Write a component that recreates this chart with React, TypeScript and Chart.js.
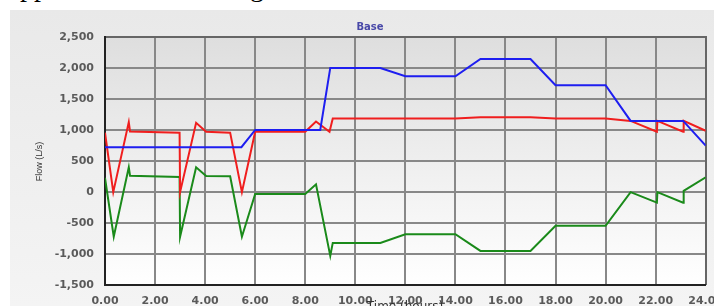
import { useEffect, useRef } from "react";
import { Chart, registerables } from "chart.js";

Chart.register(...registerables);

// Time (hours) and flow (L/s) for each series
const blueTime = [0, 5.45, 6.0, 8.6, 9.0, 11.0, 12.0, 14.0, 15.0, 17.0, 18.0, 20.0, 21.0, 23.1, 24.0];
const blueFlow = [725, 725, 1005, 1005, 2005, 2005, 1870, 1870, 2150, 2150, 1725, 1725, 1150, 1150, 750];

const redTime = [0, 0.33, 0.95, 1.0, 2.98, 3.0, 3.64, 4.04, 5.0, 5.47, 6.0, 8.0, 8.43, 8.97, 9.1, 14.0, 15.0, 17.0, 18.0, 20.0, 21.0, 22.05, 22.07, 23.1, 23.12, 24.0];
const redFlow = [960, 0, 1130, 980, 960, 0, 1120, 975, 960, 0, 975, 975, 1140, 975, 1190, 1190, 1210, 1210, 1190, 1190, 1150, 975, 1150, 975, 1150, 990];

const greenTime = [0, 0.35, 0.95, 1.0, 2.98, 3.0, 3.64, 4.04, 5.0, 5.47, 6.0, 8.0, 8.43, 9.0, 9.1, 11.0, 12.0, 14.0, 15.0, 17.0, 18.0, 20.0, 21.0, 22.05, 22.07, 23.1, 23.12, 24.0];
const greenFlow = [230, -720, 400, 265, 245, -720, 400, 260, 255, -720, -30, -30, 125, -1030, -820, -820, -680, -680, -950, -950, -545, -545, 0, -170, 0, -170, 20, 240];

const xMin = 0;
const xMax = 24;
const xStep = 2;
const yMin = -1500;
const yMax = 2500;
const yStep = 500;

const chartTitle = "Base";
const yTitle = "Flow (L/s)";
const xTitle = "Time (hours)";

export default function App() {
  const ref = useRef<HTMLCanvasElement>(null);

  useEffect(() => {
    const pts = (t: number[], v: number[]) => t.map((x, i) => ({ x, y: v[i] }));
    const decor = {
      id: "decor",
      beforeDatasetsDraw(chart: any) {
        const { ctx, chartArea: a } = chart;
        const xs = chart.scales.x;
        const ys = chart.scales.y;
        const L = Math.round(a.left);
        const T = Math.round(a.top);
        const R = Math.round(a.right);
        const B = Math.round(a.bottom);
        ctx.save();
        const g = ctx.createLinearGradient(0, T, 0, B);
        g.addColorStop(0, "#dedede");
        g.addColorStop(1, "#ffffff");
        ctx.fillStyle = g;
        ctx.fillRect(L, T, R - L, B - T);
        ctx.fillStyle = "#888888";
        for (let t = xMin; t <= xMax; t += xStep) {
          const px = Math.round(xs.getPixelForValue(t));
          ctx.fillRect(px - 1, T, 2, B - T);
        }
        for (let v = yMin; v <= yMax; v += yStep) {
          const py = Math.round(ys.getPixelForValue(v));
          ctx.fillRect(L, py - 1, R - L, 2);
        }
        ctx.fillStyle = "#666666";
        ctx.fillRect(L, T - 1, R - L, 2);
        ctx.fillRect(R - 1, T - 1, 2, B - T + 1);
        ctx.fillStyle = "#222222";
        ctx.fillRect(L - 1, T - 1, 2, B - T + 2);
        ctx.fillRect(L - 1, B - 1, R - L + 1, 2);
        ctx.restore();
      },
      afterDraw(chart: any) {
        const { ctx } = chart;
        ctx.save();
        ctx.fillStyle = "#4848a8";
        ctx.font = "bold 10px 'DejaVu Sans'";
        ctx.textAlign = "center";
        ctx.textBaseline = "middle";
        ctx.fillText(chartTitle, 360, 17);
        ctx.fillStyle = "#333333";
        ctx.font = "12px 'DejaVu Sans'";
        ctx.textBaseline = "top";
        ctx.fillText(xTitle, 395, 291);
        ctx.translate(30, 151.5);
        ctx.rotate(-Math.PI / 2);
        ctx.font = "9px 'Liberation Sans'";
        ctx.textBaseline = "middle";
        ctx.fillText(yTitle, 0, 0);
        ctx.restore();
      },
    };

    const chart = new Chart(ref.current as HTMLCanvasElement, {
      type: "line",
      data: {
        datasets: [
          { data: pts(blueTime, blueFlow), borderColor: "#1e1ef0", borderWidth: 2, pointRadius: 0, tension: 0, fill: false },
          { data: pts(redTime, redFlow), borderColor: "#f01e1e", borderWidth: 2, pointRadius: 0, tension: 0, fill: false },
          { data: pts(greenTime, greenFlow), borderColor: "#1a8a1a", borderWidth: 2, pointRadius: 0, tension: 0, fill: false },
        ],
      },
      options: {
        responsive: false,
        animation: false,
        events: [],
        layout: { padding: { left: 0, top: 27.3, right: 44.3, bottom: 0 } },
        plugins: { legend: { display: false }, tooltip: { enabled: false }, title: { display: false } },
        scales: {
          x: {
            type: "linear",
            min: xMin,
            max: xMax,
            afterFit: (s: any) => { s.height = 21; },
            ticks: {
              stepSize: xStep,
              padding: 10,
              color: "#5a5a5a",
              font: { family: "'DejaVu Sans'", size: 11, weight: "bold" },
              maxRotation: 0,
              autoSkip: false,
              callback: (v: any) => Number(v).toFixed(2),
            },
            grid: { display: false, drawTicks: false },
            border: { display: false },
          },
          y: {
            type: "linear",
            min: yMin,
            max: yMax,
            afterFit: (s: any) => { s.width = 95; },
            ticks: {
              stepSize: yStep,
              padding: 11,
              color: "#5a5a5a",
              font: { family: "'DejaVu Sans'", size: 11, weight: "bold" },
              callback: (v: any) => Number(v).toLocaleString("en-US"),
            },
            grid: { display: false, drawTicks: false },
            border: { display: false },
          },
        },
      },
      plugins: [decor],
    } as any);
    return () => chart.destroy();
  }, []);

  const serif: any = { position: "absolute", top: -27, fontSize: 28, lineHeight: "28px", fontFamily: "'Liberation Serif', serif", color: "#000" };

  return (
    <div style={{ position: "fixed", left: 0, top: 0, width: 714, height: 306, overflow: "hidden", background: "#fff" }}>
      <span style={{ ...serif, left: 20 }}>p</span>
      <span style={{ ...serif, left: 34 }}>p</span>
      <span style={{ ...serif, left: 250 }}>g</span>
      <div style={{ position: "absolute", left: 10, top: 10, width: 704, height: 296, overflow: "hidden", background: "linear-gradient(#e9e9e9, #f4f4f4)" }}>
        <canvas ref={ref} width={740} height={296} style={{ width: 740, height: 296, display: "block" }} />
      </div>
    </div>
  );
}
